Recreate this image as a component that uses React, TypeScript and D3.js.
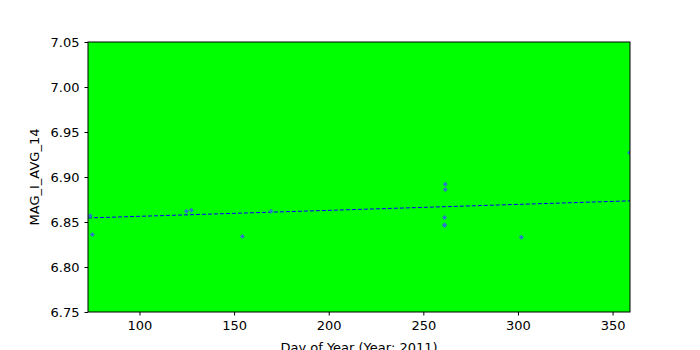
import { useEffect, useRef } from 'react';
import * as d3 from 'd3';

const W = 700;
const H = 350;
const MARGIN = { top: 42, right: 70, bottom: 38, left: 88 };

// observations: day of year / value
const days = [73.9, 75.1, 124.8, 127.4, 154.4, 169.5, 261.6, 261.6, 261.2, 261.2, 261.2, 301.8, 359.0];
const values = [6.857, 6.836, 6.862, 6.863, 6.834, 6.862, 6.892, 6.886, 6.855, 6.847, 6.846, 6.833, 6.927];

// fitted trend (end points)
const trendDays = [72.8, 359.2];
const trendValues = [6.8545, 6.8735];

const xDomain = [72.8, 359.2];
const yDomain = [6.75, 7.05];
const xTicks = [100, 150, 200, 250, 300, 350];
const yTicks = [6.75, 6.8, 6.85, 6.9, 6.95, 7.0, 7.05];

const FONT = 'DejaVu Sans, sans-serif';

export default function App() {
  const svgRef = useRef<SVGSVGElement | null>(null);

  useEffect(() => {
    if (!svgRef.current) return;
    const svg = d3.select(svgRef.current);
    svg.selectAll('*').remove();

    const innerW = W - MARGIN.left - MARGIN.right;
    const innerH = H - MARGIN.top - MARGIN.bottom;

    const x = d3.scaleLinear().domain(xDomain).range([0, innerW]);
    const y = d3.scaleLinear().domain(yDomain).range([innerH, 0]);

    svg.append('defs').append('clipPath').attr('id', 'plot-clip')
      .append('rect').attr('width', innerW).attr('height', innerH);

    const g = svg.append('g').attr('transform', `translate(${MARGIN.left},${MARGIN.top})`);

    // Background
    g.append('rect')
      .attr('width', innerW).attr('height', innerH)
      .attr('fill', '#00ff00');

    const plot = g.append('g').attr('clip-path', 'url(#plot-clip)');

    // Trend line
    const line = d3.line<number>()
      .x((_, i) => x(trendDays[i]))
      .y(d => y(d));
    plot.append('path')
      .datum(trendValues)
      .attr('d', line)
      .attr('fill', 'none')
      .attr('stroke', '#0000ff')
      .attr('stroke-width', 1)
      .attr('stroke-dasharray', '4,2');

    // Points (small diamonds)
    const marker = d3.symbol().type(d3.symbolSquare).size(12);
    values.forEach((v, i) => {
      plot.append('path')
        .attr('d', marker)
        .attr('transform', `translate(${x(days[i])},${y(v)}) rotate(45)`)
        .attr('fill', '#2a78c8');
    });

    // Frame
    g.append('rect')
      .attr('width', innerW).attr('height', innerH)
      .attr('fill', 'none').attr('stroke', '#000').attr('stroke-width', 1);

    // Axes
    const xAxis = d3.axisBottom(x).tickValues(xTicks).tickFormat(d3.format('d')).tickSize(3.5).tickPadding(5);
    const gx = g.append('g').attr('transform', `translate(0,${innerH})`).call(xAxis);
    gx.select('.domain').remove();

    const yAxis = d3.axisLeft(y).tickValues(yTicks).tickFormat(d3.format('.2f')).tickSize(3.5).tickPadding(5);
    const gy = g.append('g').call(yAxis);
    gy.select('.domain').remove();

    [gx, gy].forEach(a => {
      a.selectAll('text').attr('fill', '#000').style('font-size', '13px').style('font-family', FONT);
      a.selectAll('.tick line').attr('stroke', '#000');
    });

    // Labels
    svg.append('text')
      .attr('x', MARGIN.left + innerW / 2).attr('y', H + 2)
      .attr('text-anchor', 'middle')
      .style('font-size', '13px').style('font-family', FONT)
      .text('Day of Year (Year: 2011)');

    svg.append('text')
      .attr('transform', `translate(39,${MARGIN.top + innerH / 2}) rotate(-90)`)
      .attr('text-anchor', 'middle')
      .style('font-size', '13px').style('font-family', FONT)
      .text('MAG_I_AVG_14');
  }, []);

  return (
    <svg ref={svgRef} width={W} height={H} style={{ display: 'block', margin: '-8px 0 0 -8px', background: '#fff' }} />
  );
}
